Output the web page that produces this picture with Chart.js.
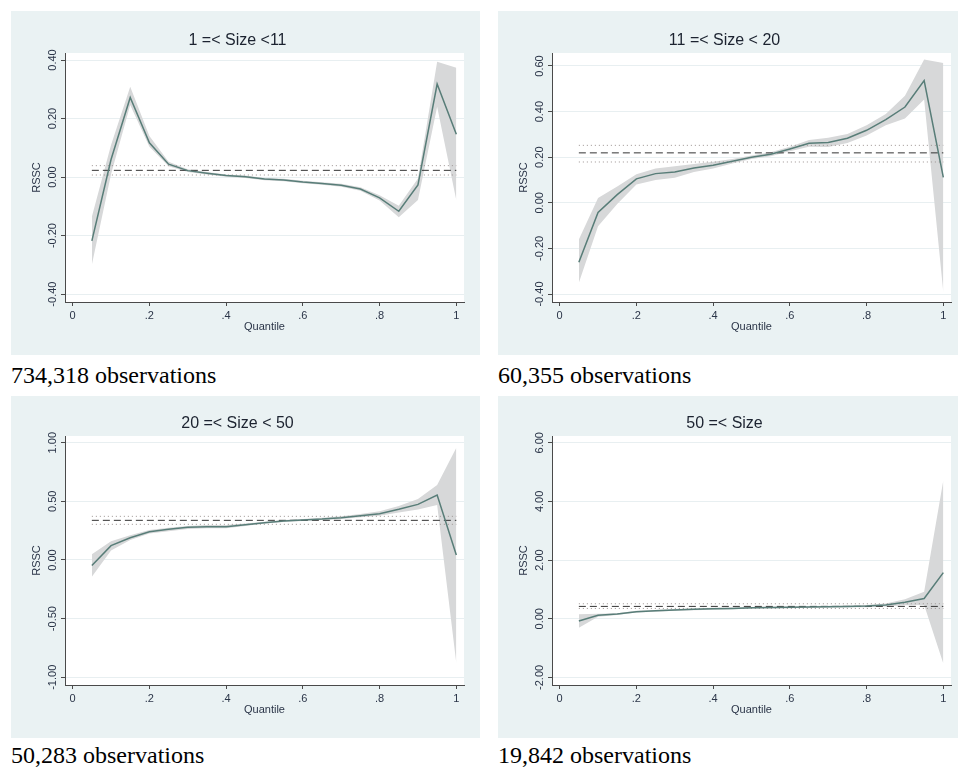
<!DOCTYPE html>
<html>
<head>
<meta charset="utf-8">
<script src="https://cdn.jsdelivr.net/npm/chart.js@4.4.0/dist/chart.umd.min.js"></script>
<style>
  body { margin: 0; width: 959px; height: 767px; position: relative; background: #fff; overflow: hidden; }
  canvas { position: absolute; background: #eaf2f3; }
  .obs { position: absolute; font-family: 'Liberation Serif', 'Times New Roman', serif; font-size: 24px; line-height: 1; color: #000; }
</style>
</head>
<body>
<canvas id="p1" width="469" height="344" style="left:11px;top:11px"></canvas>
<canvas id="p2" width="460" height="344" style="left:498px;top:11px"></canvas>
<canvas id="p3" width="469" height="342" style="left:11px;top:396px"></canvas>
<canvas id="p4" width="460" height="342" style="left:498px;top:396px"></canvas>
<div class="obs" style="left:11px;top:363px">734,318 observations</div>
<div class="obs" style="left:498px;top:363px">60,355 observations</div>
<div class="obs" style="left:11px;top:743px">50,283 observations</div>
<div class="obs" style="left:498px;top:743px">19,842 observations</div>
<script>
// quantile grid and axis ticks
const quantiles = [0.05, 0.10, 0.15, 0.20, 0.25, 0.30, 0.35, 0.40, 0.45, 0.50,
                   0.55, 0.60, 0.65, 0.70, 0.75, 0.80, 0.85, 0.90, 0.95, 1.00];
const xTicks = [0, 0.2, 0.4, 0.6, 0.8, 1];
const titles = ['1 =< Size <11', '11 =< Size < 20', '20 =< Size < 50', '50 =< Size'];

// 1 =< Size < 11
const est1 = [-0.218, 0.060, 0.272, 0.117, 0.044, 0.022, 0.013, 0.005, 0.001, -0.007,
              -0.010, -0.017, -0.022, -0.028, -0.041, -0.071, -0.117, -0.027, 0.318, 0.146];
const hi1  = [-0.136, 0.110, 0.309, 0.140, 0.052, 0.027, 0.017, 0.009, 0.005, -0.003,
              -0.006, -0.013, -0.018, -0.023, -0.035, -0.062, -0.098, -0.005, 0.394, 0.374];
const lo1  = [-0.300, 0.010, 0.246, 0.104, 0.037, 0.017, 0.009, 0.001, -0.003, -0.011,
              -0.014, -0.021, -0.026, -0.033, -0.047, -0.080, -0.137, -0.078, 0.240, -0.079];
const mean1 = [0.023, 0.007, 0.039];   // mean, lower, upper
const yTicks1 = [-0.4, -0.2, 0, 0.2, 0.4];

// 11 =< Size < 20
const est2 = [-0.261, -0.042, 0.036, 0.105, 0.128, 0.135, 0.153, 0.165, 0.182, 0.200,
              0.213, 0.236, 0.261, 0.265, 0.283, 0.318, 0.365, 0.420, 0.536, 0.112];
const hi2  = [-0.161, 0.021, 0.072, 0.125, 0.150, 0.160, 0.170, 0.180, 0.192, 0.208,
              0.222, 0.246, 0.276, 0.285, 0.302, 0.340, 0.390, 0.470, 0.628, 0.613];
const lo2  = [-0.351, -0.103, -0.005, 0.080, 0.100, 0.110, 0.135, 0.150, 0.172, 0.192,
              0.204, 0.226, 0.246, 0.245, 0.262, 0.295, 0.340, 0.370, 0.453, -0.392];
const mean2 = [0.219, 0.179, 0.252];
const yTicks2 = [-0.4, -0.2, 0, 0.2, 0.4, 0.6];

// 20 =< Size < 50
const est3 = [-0.048, 0.122, 0.190, 0.241, 0.261, 0.278, 0.284, 0.284, 0.301, 0.318,
              0.332, 0.341, 0.349, 0.361, 0.378, 0.395, 0.432, 0.474, 0.554, 0.043];
const hi3  = [0.048, 0.160, 0.210, 0.255, 0.275, 0.290, 0.298, 0.298, 0.310, 0.326,
              0.340, 0.350, 0.360, 0.372, 0.392, 0.415, 0.460, 0.520, 0.639, 0.957];
const lo3  = [-0.142, 0.080, 0.170, 0.225, 0.245, 0.265, 0.270, 0.270, 0.290, 0.310,
              0.323, 0.332, 0.340, 0.350, 0.364, 0.378, 0.405, 0.430, 0.469, -0.881];
const mean3 = [0.338, 0.304, 0.372];
const yTicks3 = [-1, -0.5, 0, 0.5, 1];

// 50 =< Size
const est4 = [-0.08, 0.12, 0.16, 0.24, 0.27, 0.30, 0.32, 0.34, 0.35, 0.37,
              0.38, 0.39, 0.40, 0.41, 0.42, 0.43, 0.47, 0.56, 0.69, 1.57];
const hi4  = [0.15, 0.17, 0.19, 0.27, 0.30, 0.33, 0.35, 0.37, 0.38, 0.40,
              0.41, 0.42, 0.43, 0.44, 0.45, 0.47, 0.52, 0.66, 0.92, 4.72];
const lo4  = [-0.31, 0.07, 0.13, 0.21, 0.24, 0.27, 0.29, 0.31, 0.32, 0.34,
              0.35, 0.36, 0.37, 0.38, 0.39, 0.39, 0.42, 0.46, 0.47, -1.53];
const mean4 = [0.42, 0.35, 0.51];
const yTicks4 = [-2, 0, 2, 4, 6];

Chart.defaults.font.family = "'Liberation Sans', Arial, sans-serif";

const plotBg = {
    id: 'plotBg',
    beforeDraw(chart) {
        const a = chart.chartArea, ctx = chart.ctx;
        ctx.save();
        ctx.fillStyle = '#ffffff';
        ctx.fillRect(a.left, a.top, a.right - a.left, a.bottom - a.top);
        ctx.restore();
    }
};

function pts(arr) {
    return quantiles.map((q, i) => ({ x: q, y: arr[i] }));
}
function flat(v) {
    return [{ x: quantiles[0], y: v }, { x: quantiles[quantiles.length - 1], y: v }];
}
function xLabel(v) {
    if (v === 0) return '0';
    if (v === 1) return '1';
    return String(Math.round(v * 10) / 10).replace(/^0/, '');
}

function makePanel(id, title, est, hi, lo, mean, yTicks, yMin, yMax, rightPad, titleH) {
    const ctx = document.getElementById(id).getContext('2d');
    new Chart(ctx, {
        type: 'line',
        data: {
            datasets: [
                { data: pts(est), borderColor: '#587d78', borderWidth: 1.5, fill: false },
                { data: flat(mean[0]), borderColor: '#333333', borderWidth: 1, borderDash: [7, 4], fill: false },
                { data: flat(mean[1]), borderColor: '#9a9290', borderWidth: 1, borderDash: [1, 3], fill: false },
                { data: flat(mean[2]), borderColor: '#9a9290', borderWidth: 1, borderDash: [1, 3], fill: false },
                { data: pts(hi), borderWidth: 0, borderColor: 'rgba(0,0,0,0)', backgroundColor: '#d7d8d9', fill: '+1' },
                { data: pts(lo), borderWidth: 0, borderColor: 'rgba(0,0,0,0)', fill: false }
            ]
        },
        options: {
            responsive: false,
            animation: false,
            devicePixelRatio: 1,
            layout: { padding: { left: 0, right: rightPad, top: 0, bottom: 0 } },
            elements: { point: { radius: 0 }, line: { tension: 0 } },
            plugins: {
                legend: { display: false },
                tooltip: { enabled: false },
                title: {
                    display: true,
                    text: title,
                    color: '#1c2330',
                    font: { size: 16, weight: 'normal' },
                    padding: { top: titleH - 21.6, bottom: 2.4 }
                }
            },
            scales: {
                x: {
                    type: 'linear',
                    min: -0.02,
                    max: 1.02,
                    afterBuildTicks: s => { s.ticks = xTicks.map(v => ({ value: v })); },
                    afterFit: s => { s.height = 53; },
                    grid: { drawOnChartArea: false, tickLength: 4, tickColor: '#4a4a4a' },
                    border: { display: true, color: '#4a4a4a', width: 1 },
                    ticks: {
                        color: '#2b3548', font: { size: 11 }, padding: 3,
                        maxRotation: 0, minRotation: 0,
                        callback: v => xLabel(v)
                    },
                    title: {
                        display: true, text: 'Quantile', color: '#2b3548',
                        font: { size: 11 }, padding: { top: 0, bottom: 21.4 }
                    }
                },
                y: {
                    type: 'linear',
                    min: yMin,
                    max: yMax,
                    afterBuildTicks: s => { s.ticks = yTicks.map(v => ({ value: v })); },
                    afterFit: s => { s.width = 54; },
                    grid: { color: '#e8eff1', tickLength: 4, tickColor: '#4a4a4a' },
                    border: { display: true, color: '#4a4a4a', width: 1 },
                    ticks: {
                        color: '#2b3548', font: { size: 11 },
                        minRotation: 90, maxRotation: 90,
                        crossAlign: 'center', padding: -4.5,
                        callback: v => v.toFixed(2)
                    },
                    title: {
                        display: true, text: 'RSSC', color: '#2b3548',
                        font: { size: 11 }, padding: { top: 19.4, bottom: 0 }
                    }
                }
            }
        },
        plugins: [plotBg]
    });
}

makePanel('p1', titles[0], est1, hi1, lo1, mean1, yTicks1, -0.427, 0.424, 16, 42);
makePanel('p2', titles[1], est2, hi2, lo2, mean2, yTicks2, -0.435, 0.657, 7, 42);
makePanel('p3', titles[2], est3, hi3, lo3, mean3, yTicks3, -1.066, 1.057, 16, 40);
makePanel('p4', titles[3], est4, hi4, lo4, mean4, yTicks4, -2.26, 6.23, 7, 40);
</script>
</body>
</html>
